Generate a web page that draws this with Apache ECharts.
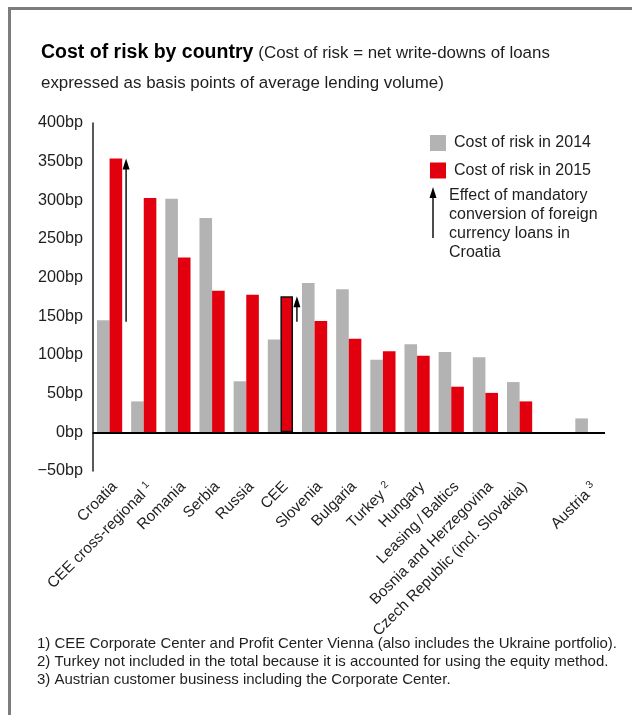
<!DOCTYPE html>
<html>
<head>
<meta charset="utf-8">
<script src="https://cdn.jsdelivr.net/npm/echarts@6/dist/echarts.min.js"></script>
<style>
  html, body { margin: 0; padding: 0; background: #fff; }
  #chart { width: 632px; height: 715px; }
</style>
</head>
<body>
<div id="chart"></div>
<script>
// Cost of risk (basis points of average lending volume) per segment
const categories = ['Croatia', 'CEE cross-regional', 'Romania', 'Serbia', 'Russia', 'CEE', 'Slovenia',
  'Bulgaria', 'Turkey', 'Hungary', 'Leasing\u2009/\u2009Baltics', 'Bosnia and Herzegovina',
  'Czech Republic (incl. Slovakia)', '', 'Austria'];
const footnoteMarks = ['', '1', '', '', '', '', '', '', '2', '', '', '', '', '', '3'];
const cost2014 = [145, 40, 302, 277, 66, 120, 193, 185, 94, 114, 104, 97, 65, null, 18];
const cost2015 = [354, 303, 226, 183, 178, 176, 144, 121, 105, 99, 59, 51, 40, null, -2];
// [category index, start value, end value] of the foreign currency conversion effect
const conversionEffect = [[0, 143, 354], [5, 143, 176]];
const yTickValues = [-50, 0, 50, 100, 150, 200, 250, 300, 350, 400];
const yTickLabels = ['\u221250bp', '0bp', '50bp', '100bp', '150bp', '200bp', '250bp', '300bp', '350bp', '400bp'];
const footnotes = [
  '1) CEE Corporate Center and Profit Center Vienna (also includes the Ukraine portfolio).',
  '2) Turkey not included in the total because it is accounted for using the equity method.',
  '3) Austrian customer business including the Corporate Center.'
];
const arrowNote = ['Effect of mandatory', 'conversion of foreign', 'currency loans in', 'Croatia'];

const FONT = "'Liberation Sans', Arial, sans-serif";
const GREY = '#b3b3b3';
const RED = '#e2000f';
const INK = '#1e1e1e';

const chart = echarts.init(document.getElementById('chart'), null, { renderer: 'canvas' });

const graphics = [
  // open frame: top and left edges
  { type: 'polyline', shape: { points: [[9.5, 760], [9.5, 8.5], [700, 8.5]] },
    style: { stroke: '#7d7d7d', lineWidth: 3, fill: null }, silent: true },
  // legend entry for the arrow
  { type: 'line', shape: { x1: 433, y1: 238, x2: 433, y2: 197 },
    style: { stroke: '#000', lineWidth: 1.4 }, silent: true },
  { type: 'polygon', shape: { points: [[433, 187], [429.5, 198], [436.5, 198]] },
    style: { fill: '#000' }, silent: true }
];
arrowNote.forEach((t, i) => {
  graphics.push({ type: 'text', left: 449, top: 188 + i * 19,
    style: { text: t, font: '16px ' + FONT, fill: INK }, silent: true });
});
footnotes.forEach((t, i) => {
  graphics.push({ type: 'text', left: 37, top: 636 + i * 18.3,
    style: { text: t, font: '15px ' + FONT, fill: INK }, silent: true });
});

chart.setOption({
  animation: false,
  backgroundColor: '#fff',
  textStyle: { fontFamily: FONT },
  title: {
    left: 36, top: 33,
    text: '{b|Cost of risk by country} {r|(Cost of risk = net write-downs of loans}\n{r|expressed as basis points of average lending volume)}',
    textStyle: {
      rich: {
        b: { fontFamily: FONT, fontWeight: 'bold', fontSize: 19.5, color: '#000', lineHeight: 30 },
        r: { fontFamily: FONT, fontWeight: 'normal', fontSize: 16.9, color: INK, lineHeight: 30 }
      }
    }
  },
  legend: {
    left: 425, top: 130, orient: 'vertical',
    itemWidth: 16, itemHeight: 16, itemGap: 11.5, icon: 'rect',
    data: ['Cost of risk in 2014', 'Cost of risk in 2015'],
    textStyle: { fontFamily: FONT, fontSize: 16, color: INK, padding: [0, 0, 0, 3] },
    selectedMode: false
  },
  grid: { left: 92.5, right: 27, top: 123, bottom: 244, containLabel: false },
  xAxis: {
    type: 'category',
    data: categories,
    axisLine: { show: false },
    axisTick: { show: false },
    axisLabel: {
      interval: 0, rotate: 45, margin: 8, verticalAlign: 'top',
      fontFamily: FONT, fontSize: 15.3, color: INK,
      formatter: (v, i) => footnoteMarks[i] ? v + ' {sup|' + footnoteMarks[i] + '}' : v,
      rich: { sup: { fontFamily: FONT, fontSize: 10.5, color: INK, verticalAlign: 'top', padding: [0, 0, 8, 0] } }
    },
    splitLine: { show: false }
  },
  yAxis: {
    type: 'value', min: -50, max: 400, interval: 50,
    axisLine: { show: true, onZero: false, lineStyle: { color: '#222', width: 1.5 } },
    axisTick: { show: false },
    splitLine: { show: false },
    axisLabel: {
      margin: 9.5, fontFamily: FONT, fontSize: 16.2, color: INK,
      formatter: v => yTickLabels[yTickValues.indexOf(v)]
    }
  },
  series: [
    {
      name: 'Cost of risk in 2014', type: 'bar', data: cost2014,
      barWidth: 12.6, barGap: '0%',
      itemStyle: { color: GREY },
      markLine: {
        silent: true, symbol: 'none', label: { show: false },
        lineStyle: { color: '#000', width: 2, type: 'solid' },
        data: [{ yAxis: 0 }]
      }
    },
    {
      name: 'Cost of risk in 2015', type: 'bar',
      data: cost2015.map((v, i) => categories[i] === 'CEE'
        ? { value: v, itemStyle: { borderColor: '#111', borderWidth: 1.5 } } : v),
      barWidth: 12.6,
      itemStyle: { color: RED }
    },
    {
      type: 'custom', name: 'conversion effect', data: conversionEffect,
      encode: { x: 0, y: [1, 2] }, silent: true, z: 5,
      renderItem: function (params, api) {
        const from = api.coord([api.value(0), api.value(1)]);
        const to = api.coord([api.value(0), api.value(2)]);
        const x = from[0] + 16.5;
        return {
          type: 'group',
          children: [
            { type: 'line', shape: { x1: x, y1: from[1], x2: x, y2: to[1] + 9 },
              style: { stroke: '#000', lineWidth: 1.4 } },
            { type: 'polygon', shape: { points: [[x, to[1]], [x - 3.5, to[1] + 11], [x + 3.5, to[1] + 11]] },
              style: { fill: '#000' } }
          ]
        };
      }
    }
  ],
  graphic: graphics
});
</script>
</body>
</html>
